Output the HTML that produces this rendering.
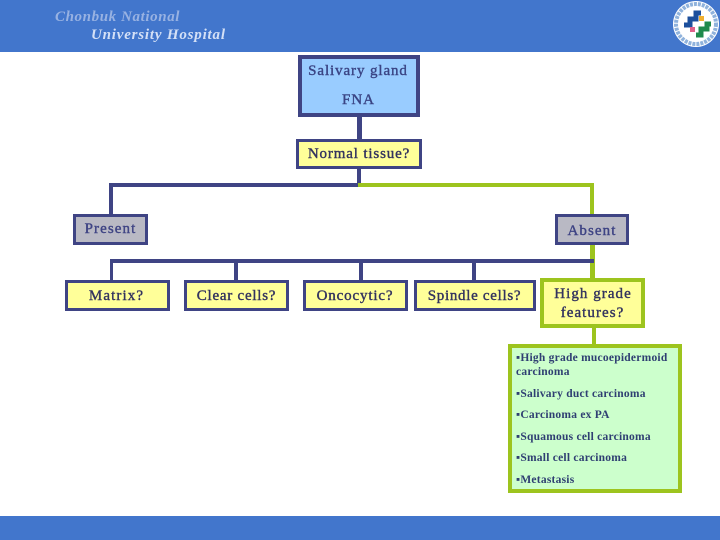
<!DOCTYPE html>
<html><head><meta charset="utf-8"><style>
html,body{margin:0;padding:0;background:#fff}
#p{position:relative;width:720px;height:540px;overflow:hidden;background:#fff;font-family:"Liberation Serif",serif}
.r{position:absolute}
.b{position:absolute;box-sizing:border-box;border:3px solid #3f4484;background:#ffff99}
.t{position:absolute;white-space:nowrap;font-size:15px;line-height:16px;color:#33335f;transform:translateX(-50%);-webkit-text-stroke:.4px currentColor}
.l{position:absolute;white-space:nowrap;font-size:11.5px;line-height:14px;font-weight:bold;color:#2f3f72;left:516px;letter-spacing:.24px}
.n{background:#3f4484}.g{background:#9dc41e}
</style></head><body><div id="p">
<div class="r" style="left:0;top:0;width:720px;height:52px;background:#4276cc"></div>
<div class="r" style="left:0;top:516px;width:720px;height:24px;background:#4276cc"></div>
<div class="r" style="left:55px;top:9px;font:italic bold 15px 'Liberation Serif',serif;letter-spacing:.6px;color:#98b2e2;white-space:nowrap">Chonbuk National</div>
<div class="r" style="left:91px;top:27px;font:italic bold 15px 'Liberation Serif',serif;letter-spacing:.8px;color:#d4e0f6;white-space:nowrap">University Hospital</div>
<svg class="r" style="left:670px;top:0" width="50" height="52" viewBox="0 0 50 52">
<circle cx="26" cy="24" r="23" fill="#fff"/>
<circle cx="26" cy="24" r="20" fill="none" stroke="#8fb2dc" stroke-width="4" stroke-dasharray="3 1"/>
<path d="M14 25h6v-6h6v-6h5" fill="none" stroke="#1c4f9c" stroke-width="5"/>
<rect x="29" y="16" width="5" height="5" fill="#f0b030"/>
<rect x="20" y="27" width="5" height="5" fill="#e0608a"/>
<path d="M26 35h5v-6h6v-5h4" fill="none" stroke="#1f8a4c" stroke-width="5"/>
</svg>

<div class="r n" style="left:357px;top:115px;width:5px;height:26px"></div>
<div class="r n" style="left:357px;top:167px;width:4px;height:18px"></div>
<div class="r n" style="left:109px;top:183px;width:249px;height:4px"></div>
<div class="r g" style="left:358px;top:183px;width:236px;height:4px"></div>
<div class="r n" style="left:109px;top:183px;width:4px;height:32px"></div>
<div class="r g" style="left:590px;top:183px;width:4px;height:32px"></div>
<div class="r g" style="left:590px;top:244px;width:5px;height:36px"></div>
<div class="r n" style="left:110px;top:259px;width:484px;height:4px"></div>
<div class="r n" style="left:110px;top:259px;width:3px;height:22px"></div>
<div class="r n" style="left:234px;top:259px;width:4px;height:22px"></div>
<div class="r n" style="left:359px;top:259px;width:4px;height:22px"></div>
<div class="r n" style="left:472px;top:259px;width:4px;height:22px"></div>
<div class="r g" style="left:592px;top:326px;width:4px;height:20px"></div>

<div class="b" style="left:298px;top:55px;width:122px;height:62px;border-width:4px;background:#99ccff"></div>
<div class="b" style="left:296px;top:139px;width:126px;height:30px"></div>
<div class="b" style="left:73px;top:214px;width:75px;height:31px;background:#b9b9c4"></div>
<div class="b" style="left:555px;top:214px;width:74px;height:31px;background:#b9b9c4"></div>
<div class="b" style="left:65px;top:280px;width:105px;height:31px"></div>
<div class="b" style="left:184px;top:280px;width:105px;height:31px"></div>
<div class="b" style="left:303px;top:280px;width:105px;height:31px"></div>
<div class="b" style="left:414px;top:280px;width:122px;height:31px"></div>
<div class="b" style="left:540px;top:278px;width:105px;height:50px;border:4px solid #9dc41e"></div>
<div class="b" style="left:508px;top:344px;width:174px;height:149px;border:4px solid #9dc41e;background:#ccffcc"></div>

<div class="t" style="left:358px;top:63px;color:#3a4484;letter-spacing:.9px">Salivary gland</div>
<div class="t" style="left:358.5px;top:92px;color:#3a4484;letter-spacing:1px">FNA</div>
<div class="t" style="left:359px;top:146px;letter-spacing:.85px">Normal tissue?</div>
<div class="t" style="left:110.5px;top:221px;color:#3f4484;letter-spacing:1.1px">Present</div>
<div class="t" style="left:592px;top:223px;color:#3f4484;letter-spacing:1.1px">Absent</div>
<div class="t" style="left:116.5px;top:288px;letter-spacing:1.1px">Matrix?</div>
<div class="t" style="left:236.5px;top:288px;letter-spacing:.75px">Clear cells?</div>
<div class="t" style="left:355px;top:288px;letter-spacing:.85px">Oncocytic?</div>
<div class="t" style="left:474.5px;top:288px;letter-spacing:.7px">Spindle cells?</div>
<div class="t" style="left:593px;top:286px;letter-spacing:1.05px">High grade</div>
<div class="t" style="left:592.5px;top:305px;letter-spacing:1.05px">features?</div>

<div class="l" style="top:351px">▪High grade mucoepidermoid</div>
<div class="l" style="top:365px">carcinoma</div>
<div class="l" style="top:387px">▪Salivary duct carcinoma</div>
<div class="l" style="top:408px">▪Carcinoma ex PA</div>
<div class="l" style="top:430px">▪Squamous cell carcinoma</div>
<div class="l" style="top:451px">▪Small cell carcinoma</div>
<div class="l" style="top:473px">▪Metastasis</div>
</div></body></html>
